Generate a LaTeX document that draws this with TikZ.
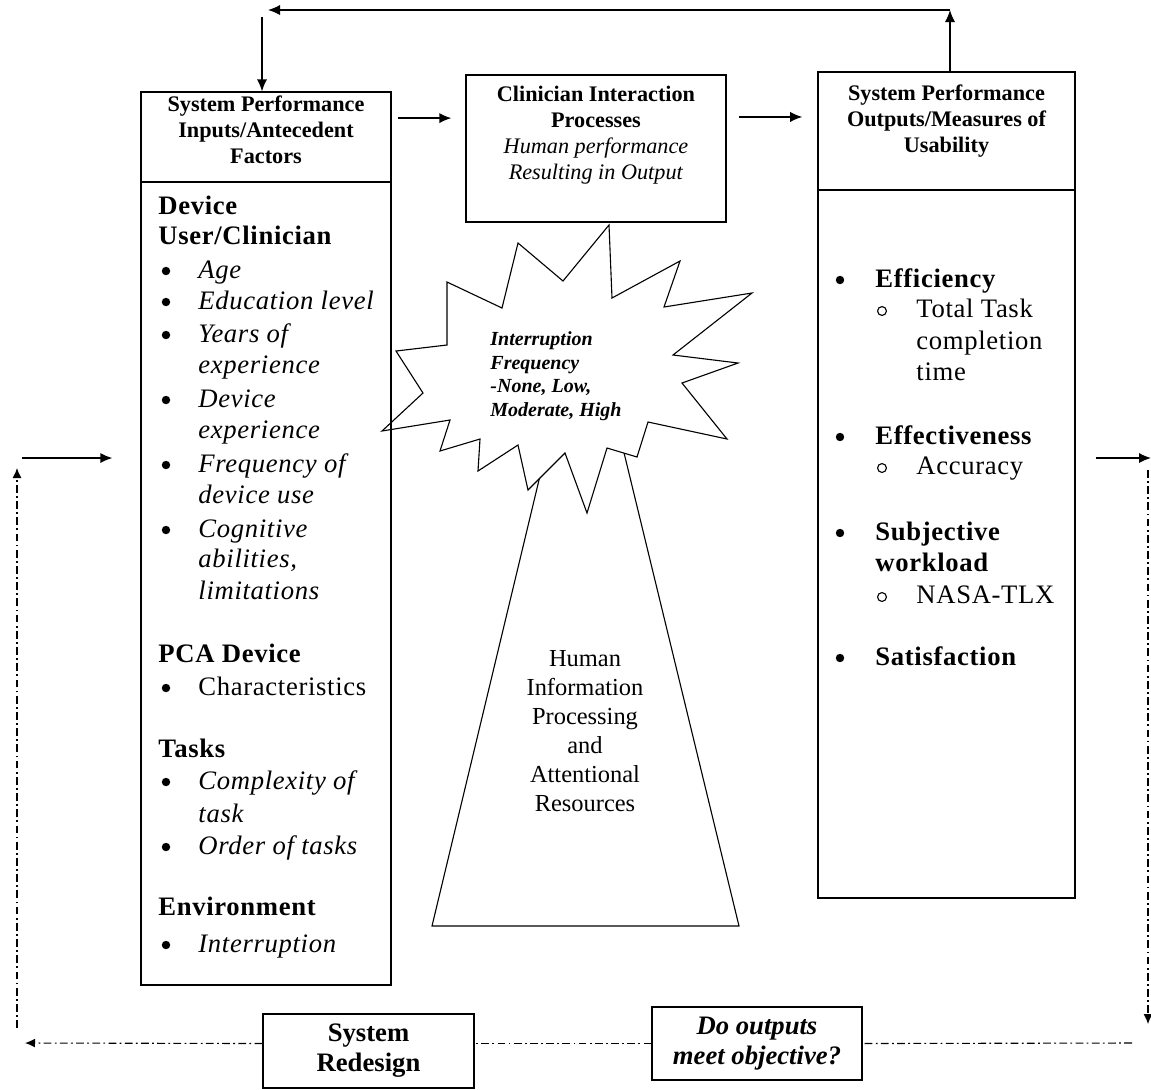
\documentclass[tikz,border=0pt]{standalone}
\usepackage{fontspec}
\setmainfont{Liberation Serif}
\newfontfamily\bodyfont[LetterSpace=2.5]{Liberation Serif}
\usepackage{tikz}
\usetikzlibrary{arrows.meta}
\newcommand{\hdfont}{\fontsize{10}{11.7}\selectfont}

\begin{document}
\begin{tikzpicture}[x=0.45pt, y=-0.45pt]
        \tikzset{box/.style = {shape=rectangle, draw, line width=0.6pt, inner sep=0}}
        \tikzset{arr/.style = {-{Latex[length=5.4pt, width=4.6pt]}, line width=0.6pt}}
        \tikzset{fbline/.style = {line width=0.5pt, dash pattern=on 3.5pt off 1.5pt on 0.8pt off 1.5pt}}
        \tikzset{fbarr/.style = {fbline, -{Latex[length=4.5pt, width=4pt]}}}
        \tikzset{head/.style = {anchor=base west, inner sep=0, font=\bodyfont\fontsize{12}{14}\selectfont\bfseries}}
        \tikzset{item/.style = {anchor=base west, inner sep=0, font=\bodyfont\fontsize{12}{14}\selectfont\itshape}}
        \tikzset{plain/.style = {anchor=base west, inner sep=0, font=\bodyfont\fontsize{12}{14}\selectfont}}
        \tikzset{bul/.style = {shape=circle, fill=black, inner sep=0, minimum size=3.8pt}}
        \tikzset{sub/.style = {shape=circle, draw, line width=0.5pt, inner sep=0, minimum size=4pt}}
        \tikzset{burst/.style = {draw, fill=white, line width=0.5pt, line join=miter}}

        \useasboundingbox (0,0) rectangle (1151,1089);

        % trapezoid and starburst
        \draw[line width=0.5pt] (548.6,440) -- (432,926) -- (739,926) -- (620.9,440);
        \node[align=center, font=\fontsize{11}{13}\selectfont] (hip) at (585,731)
                {Human\\Information\\Processing\\and\\Attentional\\Resources};

        \draw[burst] (609,225) -- (612,298) -- (680,261) -- (664,307) -- (752,293)
                -- (673,355) -- (738,363) -- (682,383) -- (727,439) -- (648,422)
                -- (637,457) -- (607,448) -- (587,513) -- (565,453) -- (528,490)
                -- (518,445) -- (478,471) -- (480,439) -- (440,451) -- (450,420)
                -- (382,431) -- (423,393) -- (396,351) -- (447,345) -- (447,282)
                -- (502,308) -- (518,243) -- (563,281) -- cycle;
        \node[anchor=west, align=left, inner sep=0,
                font=\fontsize{9}{10.6}\selectfont\bfseries\itshape] (freq) at (490,376)
                {Interruption\\Frequency\\-None, Low,\\Moderate, High};

        % boxes
        \node[box, minimum width=112.5pt, minimum height=40.5pt] (inhead) at (266,137) {};
        \node[box, minimum width=112.5pt, minimum height=361.35pt] (inbody) at (266,583.5) {};
        \node[box, minimum width=117pt, minimum height=66.15pt] (midbox) at (596,148.5) {};
        \node[box, minimum width=115.65pt, minimum height=53.1pt] (outhead) at (946.5,131) {};
        \node[box, minimum width=115.65pt, minimum height=318.6pt] (outbody) at (946.5,544) {};
        \node[box, minimum width=94.95pt, minimum height=33.3pt, align=center,
                font=\fontsize{12}{13.5}\selectfont\bfseries] (rd) at (368.5,1051)
                {System\\Redesign};
        \node[box, minimum width=94.5pt, minimum height=32.85pt, align=center,
                font=\fontsize{12}{13.5}\selectfont\bfseries\itshape] (q) at (757,1043.5)
                {Do outputs\\meet objective?};

        % box titles
        \node[align=center, font=\hdfont\bfseries] (intitle) at (266,130)
                {System Performance\\Inputs/Antecedent\\Factors};
        \node[align=center, font=\hdfont] (midtitle) at (596,135)
                {\textbf{Clinician Interaction}\\\textbf{Processes}\\\textit{Human performance}\\\textit{Resulting in Output}};
        \node[align=center, font=\hdfont\bfseries] (outtitle) at (946.5,121)
                {System Performance\\Outputs/Measures of\\Usability};

        % inputs
        \node[head] (h1) at (158,214) {Device};
        \node[head] (h2) at (158,244) {User/Clinician};
        \node[bul] (b1) at (166,271) {};
        \node[item] (u1) at (198,278) {Age};
        \node[bul] (b2) at (166,302) {};
        \node[item] (u2) at (198,309) {Education level};
        \node[bul] (b3) at (166,335) {};
        \node[item] (u3) at (198,342) {Years of};
        \node[item] (u4) at (198,373) {experience};
        \node[bul] (b4) at (166,400) {};
        \node[item] (u5) at (198,407) {Device};
        \node[item] (u6) at (198,438) {experience};
        \node[bul] (b5) at (166,465) {};
        \node[item] (u7) at (198,472) {Frequency of};
        \node[item] (u8) at (198,503) {device use};
        \node[bul] (b6) at (166,530) {};
        \node[item] (u9) at (198,537) {Cognitive};
        \node[item] (u10) at (198,567) {abilities,};
        \node[item] (u11) at (198,599) {limitations};

        \node[head] (h3) at (158,662) {PCA Device};
        \node[bul] (b7) at (166,688) {};
        \node[plain] (p1) at (198,695) {Characteristics};

        \node[head] (h4) at (158,757) {Tasks};
        \node[bul] (b8) at (166,782) {};
        \node[item] (t1) at (198,789) {Complexity of};
        \node[item] (t2) at (198,822) {task};
        \node[bul] (b9) at (166,847) {};
        \node[item] (t3) at (198,854) {Order of tasks};

        \node[head] (h5) at (158,915) {Environment};
        \node[bul] (b10) at (166,945) {};
        \node[item] (e1) at (198,952) {Interruption};

        % outputs
        \node[bul] (o1) at (840,280) {};
        \node[head] (m1) at (875,287) {Efficiency};
        \node[sub] (c1) at (882,311) {};
        \node[plain] (s1) at (916,317) {Total Task};
        \node[plain] (s2) at (916,349) {completion};
        \node[plain] (s3) at (916,380) {time};
        \node[bul] (o2) at (840,437) {};
        \node[head] (m2) at (875,444) {Effectiveness};
        \node[sub] (c2) at (882,468) {};
        \node[plain] (s4) at (916,474) {Accuracy};
        \node[bul] (o3) at (840,533) {};
        \node[head] (m3) at (875,540) {Subjective};
        \node[head] (m4) at (875,571) {workload};
        \node[sub] (c3) at (882,597) {};
        \node[plain] (s5) at (916,603) {NASA-TLX};
        \node[bul] (o4) at (840,658) {};
        \node[head] (m5) at (875,665) {Satisfaction};

        % arrows
        \draw[arr, shorten <=3pt, shorten >=6.3pt] ([yshift=8.5pt]inhead.east)
                -- ([yshift=8.5pt]inhead.east -| midbox.west);
        \draw[arr, shorten <=5.4pt, shorten >=6.8pt] ([yshift=14.2pt]midbox.east)
                -- ([yshift=14.2pt]midbox.east -| outhead.west);

        \coordinate (fbR) at (950,10);
        \coordinate (fbL) at (268,10);
        \coordinate (fbD) at (262,17);
        \draw[arr] (outhead.north -| fbR) -- (fbR);
        \draw[arr] (fbR) -- (fbL);
        \draw[arr] (fbD) -- (inhead.north -| fbD);

        \coordinate (inL) at (22,458);
        \coordinate (outR) at (1151,458);
        \draw[arr, shorten >=12.6pt] (inL) -- (inL -| inbody.west);
        \draw[arr, shorten <=9pt] (outR -| outbody.east) -- (outR);

        % redesign loop
        \coordinate (lpRT) at (1148,470);
        \coordinate (lpRB) at (1148,1024);
        \coordinate (lpR) at (1132,1043);
        \coordinate (lpL) at (25,1043);
        \coordinate (lpLB) at (17,1028);
        \coordinate (lpLT) at (17,468);
        \draw[fbarr] (lpRT) -- (lpRB);
        \draw[fbline] (lpR) -- (q.east);
        \draw[fbline] (q.west) -- (q.west -| rd.east);
        \draw[fbarr] (q.west -| rd.west) -- (lpL);
        \draw[fbarr] (lpLB) -- (lpLT);
\end{tikzpicture}
\end{document}
